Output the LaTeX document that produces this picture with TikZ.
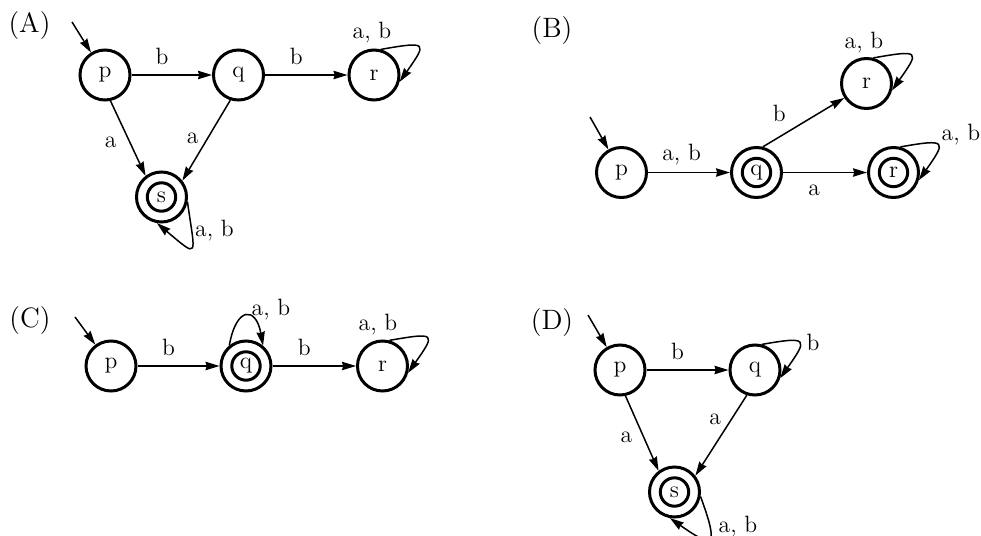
\documentclass[tikz,border=0pt]{standalone}
\usetikzlibrary{arrows.meta}
\begin{document}
\begin{tikzpicture}[x=0.5pt,y=-0.5pt,
  font=\fontsize{11.8}{14}\selectfont,
  st/.style={circle,draw,line width=1.5pt,minimum size=25pt,inner sep=0pt},
  acc/.style={st,path picture={\draw[line width=1.5pt] (path picture bounding box.center) circle (7.1pt);}},
  arr/.style={-{Stealth[length=7pt,width=4.2pt,inset=0.6pt]},line width=0.75pt},
  lbl/.style={inner sep=0pt},
  tag/.style={font=\fontsize{14}{16}\selectfont}
]
\useasboundingbox (0,0) rectangle (981,536);

% ---------- (A) ----------
\node[tag] (tA) at (29.5,25.5) {(A)};
\node[st] (pA) at (105,75) {p};
\node[st] (qA) at (238.5,75) {q};
\node[st] (rA) at (374,75) {r};
\node[acc] (sA) at (161.5,197) {s};
\coordinate (iA) at (72,22);
\draw[arr] (iA) -- (pA);
\draw[arr] (pA) -- node[pos=.38,above=1.5pt] (lA1) {b} (qA);
\draw[arr] (qA) -- node[pos=.38,above=1.5pt] (lA2) {b} (rA);
\draw[arr] (pA.-78) -- node[pos=.55,left=3pt] (lA3) {a} (sA.127);
\draw[arr] (qA.-108) -- node[pos=.47,left=1pt] (lA4) {a} (sA.38);
\draw[arr] (rA.75) to[out=10,in=55,distance=24pt] (rA.-15);
\draw[arr] (sA.-11) to[out=-82,in=-40,distance=28pt] (sA.-100);
\node[lbl,anchor=base] (lA5) at ([shift={(-2,-37)}]rA.center) {a, b};
\node[lbl,anchor=base] (lA6) at ([shift={(53,39)}]sA.center) {a, b};

% ---------- (B) ----------
\node[tag] (tB) at (552,30.5) {(B)};
\node[st] (pB) at (621.5,172.5) {p};
\node[acc] (qB) at (756.5,172.5) {q};
\node[st] (rB1) at (866.5,83.5) {r};
\node[acc] (rB2) at (893.5,172.5) {r};
\coordinate (iB) at (590,117);
\draw[arr] (iB) -- (pB);
\draw[arr] (pB) -- node[pos=.41,above] (lB1) {a, b} (qB);
\draw[arr] (qB.76) -- node[pos=.37,above left] (lB2) {b} (rB1.-147);
\draw[arr] (qB) -- node[pos=.37,below=2.5pt] (lB3) {a} (rB2);
\draw[arr] (rB1.75) to[out=10,in=55,distance=24pt] (rB1.-15);
\draw[arr] (rB2.75) to[out=10,in=55,distance=24pt] (rB2.-17);
\node[lbl,anchor=base] (lB4) at ([shift={(-2.5,-35.5)}]rB1.center) {a, b};
\node[lbl,anchor=base] (lB5) at ([shift={(67.5,-32.5)}]rB2.center) {a, b};

% ---------- (C) ----------
\node[tag] (tC) at (30,321) {(C)};
\node[st] (pC) at (111,366) {p};
\node[acc] (qC) at (246,366) {q};
\node[st] (rC) at (382.5,366) {r};
\coordinate (iC) at (75,317);
\draw[arr] (iC) -- (pC);
\draw[arr] (pC) -- node[pos=.38,above=1.5pt] (lC1) {b} (qC);
\draw[arr] (qC) -- node[pos=.38,above=1.5pt] (lC2) {b} (rC);
\draw[arr] (qC.129) to[out=80,in=100,distance=20pt] (qC.50);
\draw[arr] (rC.75) to[out=10,in=55,distance=24pt] (rC.-15);
\node[lbl,anchor=base] (lC3) at ([shift={(25,-51)}]qC.center) {a, b};
\node[lbl,anchor=base] (lC4) at ([shift={(-4.5,-36)}]rC.center) {a, b};

% ---------- (D) ----------
\node[tag] (tD) at (552,322.5) {(D)};
\node[st] (pD) at (620,370) {p};
\node[st] (qD) at (755,370) {q};
\node[acc] (sD) at (674.5,492) {s};
\coordinate (iD) at (588,315);
\draw[arr] (iD) -- (pD);
\draw[arr] (pD) -- node[pos=.38,above=1.5pt] (lD1) {b} (qD);
\draw[arr] (pD.-78) -- node[pos=.55,left=2pt] (lD2) {a} (sD.127);
\draw[arr] (qD.-108) -- node[pos=.3,left=1.5pt] (lD3) {a} (sD.38);
\draw[arr] (qD.75) to[out=10,in=55,distance=24pt] (qD.-18);
\draw[arr] (sD.-10) to[out=-70,in=-35,distance=27pt] (sD.-100);
\node[lbl,anchor=base] (lD4) at ([shift={(58,-20)}]qD.center) {b};
\node[lbl,anchor=base] (lD5) at ([shift={(63.5,40)}]sD.center) {a, b};
\end{tikzpicture}
\end{document}
